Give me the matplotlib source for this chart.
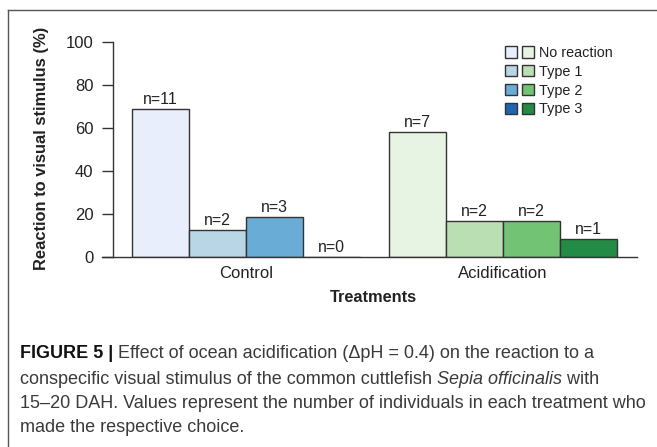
import matplotlib.pyplot as plt
from matplotlib.legend_handler import HandlerTuple

plt.rcParams["font.family"] = ["Liberation Sans", "DejaVu Sans"]

# data (percent of individuals per treatment)
groups = ["Control", "Acidification"]
reactions = ["No reaction", "Type 1", "Type 2", "Type 3"]
control_n = [11, 2, 3, 0]
acid_n = [7, 2, 2, 1]
control_pct = [68.75, 12.5, 18.75, 0.0]
acid_pct = [58.3, 16.7, 16.7, 8.3]

blues = ["#e8eefb", "#b9d6e7", "#69acd5", "#2166ad"]
greens = ["#e8f4e3", "#badfb2", "#72c374", "#238b45"]

W, H = 657, 447
fig = plt.figure(figsize=(W / 100, H / 100), dpi=100)

ax = fig.add_axes([102 / W, 1 - 257 / H, (637 - 102) / W, (257 - 42) / H])
ax.set_xlim(-0.025, 9.344)
ax.set_ylim(0, 100)

txt = "#222222"
edge = "#333333"


def draw_group(x0, pct, ns, colors):
    xs = [x0 + i for i in range(len(pct))]
    bars = ax.bar(xs, pct, width=1.0, align="edge", color=colors,
                  edgecolor=edge, linewidth=1.0)
    for b, n in zip(bars, ns):
        ax.annotate(f"n={n}", (b.get_x() + 0.5, b.get_height()),
                    xytext=(0, 1.5), textcoords="offset points",
                    ha="center", va="bottom", fontsize=11.4, color=txt,
                    annotation_clip=False)
    return bars


cb = draw_group(0.5, control_pct, control_n, blues)
ab = draw_group(5.0, acid_pct, acid_n, greens)

ax.spines["top"].set_visible(False)
ax.spines["right"].set_visible(False)
ax.spines["left"].set_position(("data", 0.167))
ax.spines["left"].set_bounds(0, 100)
for s in ("left", "bottom"):
    ax.spines[s].set_color(edge)
    ax.spines[s].set_linewidth(1.0)

ax.set_yticks([0, 20, 40, 60, 80, 100])
ax.tick_params(axis="y", length=8, width=1.0, color=edge, pad=6,
               labelsize=12, labelcolor=txt)
ax.set_xticks([2.5, 7.0])
ax.set_xticklabels(groups)
ax.tick_params(axis="x", length=0, pad=6.5, labelsize=12, labelcolor=txt)

ax.set_xlabel("Treatments", fontsize=11.8, fontweight="bold", color=txt)
ax.xaxis.set_label_coords(0.508, -0.155)

fig.text(42 / W, 1 - 148 / H, "Reaction to visual stimulus (%)", rotation=90,
         ha="center", va="center", fontsize=11.9, fontweight="bold", color=txt)

handles = [(cb[i], ab[i]) for i in range(len(reactions))]
leg = ax.legend(handles, reactions, handler_map={tuple: HandlerTuple(ndivide=None, pad=0.35)},
                loc="upper left", bbox_to_anchor=(505 / W, 1 - 46 / H),
                bbox_transform=fig.transFigure, frameon=False, fontsize=10.4,
                handlelength=2.0, handleheight=0.8, handletextpad=0.35,
                labelspacing=0.33, borderpad=0, borderaxespad=0)
for t in leg.get_texts():
    t.set_color(txt)

# frame of the figure panel (left and top edges only visible)
fig.add_artist(plt.Line2D([8 / W, 8 / W], [0, 1 - 10 / H], transform=fig.transFigure,
                          color="#555555", linewidth=1.0))
fig.add_artist(plt.Line2D([8 / W, 1], [1 - 10 / H, 1 - 10 / H], transform=fig.transFigure,
                          color="#555555", linewidth=1.0))

# caption, built from chained segments so bold/italic parts sit inline
cap_color = "#3a3a3a"
cap_size = 13
lines = [
    [("FIGURE 5 |", "bold", "normal"),
     (" Effect of ocean acidification (\u0394pH = 0.4) on the reaction to a", "normal", "normal")],
    [("conspecific visual stimulus of the common cuttlefish ", "normal", "normal"),
     ("Sepia officinalis", "normal", "italic"),
     (" with", "normal", "normal")],
    [("15\u201320 DAH. Values represent the number of individuals in each treatment who", "normal", "normal")],
    [("made the respective choice.", "normal", "normal")],
]
baselines = [358, 384, 408, 432]
for segs, yb in zip(lines, baselines):
    prev = None
    for s, weight, style in segs:
        color = "#111111" if weight == "bold" else cap_color
        if prev is None:
            prev = fig.text(20 / W, 1 - yb / H, s, ha="left", va="baseline",
                            fontsize=cap_size, fontweight=weight, fontstyle=style,
                            color=color)
        else:
            prev = ax.annotate(s, xy=(1, 0), xycoords=prev, ha="left", va="bottom",
                               fontsize=cap_size, fontweight=weight, fontstyle=style,
                               color=color, annotation_clip=False)

fig.savefig("out.png", dpi=100)
